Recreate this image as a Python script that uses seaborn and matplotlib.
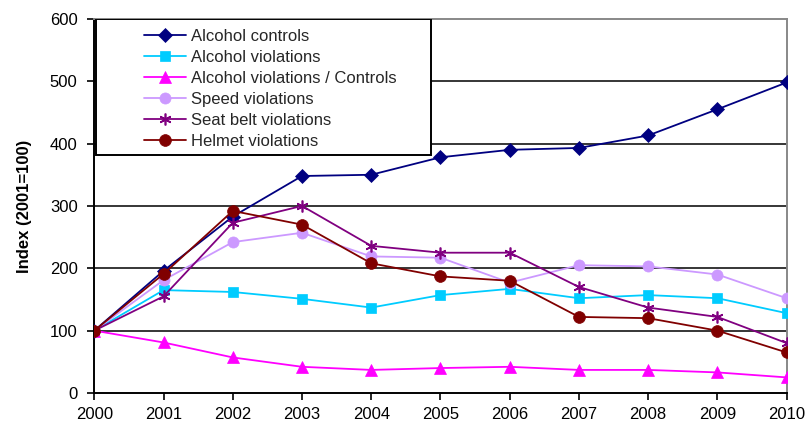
import matplotlib
matplotlib.use("Agg")
import matplotlib.pyplot as plt
from matplotlib.patches import Rectangle
import seaborn as sns
import pandas as pd

years = [2000, 2001, 2002, 2003, 2004, 2005, 2006, 2007, 2008, 2009, 2010]

alcohol_controls = [100, 196, 283, 348, 350, 378, 390, 393, 413, 455, 498]
alcohol_violations = [100, 165, 162, 151, 137, 157, 167, 152, 157, 152, 128]
violations_per_control = [100, 81, 57, 42, 37, 40, 42, 37, 37, 33, 25]
speed_violations = [100, 181, 242, 257, 219, 217, 177, 205, 203, 190, 152]
seat_belt_violations = [100, 155, 273, 300, 236, 225, 225, 170, 137, 122, 80]
helmet_violations = [100, 191, 292, 270, 208, 187, 180, 122, 120, 100, 65]

series_names = [
    "Alcohol controls",
    "Alcohol violations",
    "Alcohol violations / Controls",
    "Speed violations",
    "Seat belt violations",
    "Helmet violations",
]
series_values = [
    alcohol_controls,
    alcohol_violations,
    violations_per_control,
    speed_violations,
    seat_belt_violations,
    helmet_violations,
]
colors = ["#000080", "#00CCFF", "#FF00FF", "#CC99FF", "#800080", "#800000"]
markers = ["D", "s", "^", "o", (6, 2, 0), "o"]
marker_sizes = [7, 7.5, 8.5, 8, 8.5, 8.5]

y_ticks = [0, 100, 200, 300, 400, 500, 600]

sns.set_theme(style="white")
plt.rcParams["font.family"] = ["Liberation Sans", "DejaVu Sans"]

fig = plt.figure(figsize=(8.06, 4.32), dpi=100)
ax = fig.add_axes([0.117, 0.0903, 0.859, 0.866])

df = pd.DataFrame({"Year": years})
for name, vals, c, m, ms in zip(series_names, series_values, colors, markers, marker_sizes):
    df[name] = vals
    sns.lineplot(
        data=df, x="Year", y=name, ax=ax, color=c, marker=m, markersize=ms,
        markeredgecolor=c, markeredgewidth=1.2 if m == (6, 2, 0) else 0.5,
        linewidth=1.3, label=name, zorder=3,
    )

ax.set_xlim(2000, 2010)
ax.set_ylim(0, 600)
ax.set_xticks(years)
ax.set_xticklabels([str(y) for y in years])
ax.set_yticks(y_ticks)

for v in y_ticks[1:-1]:
    ax.axhline(v, color="black", linewidth=1.1, zorder=1)

for side in ["left", "bottom"]:
    ax.spines[side].set_color("black")
    ax.spines[side].set_linewidth(1.4)
for side in ["top", "right"]:
    ax.spines[side].set_color("#888888")
    ax.spines[side].set_linewidth(1.4)

ax.tick_params(axis="both", which="both", direction="out", length=5, width=1.2,
               color="black", labelsize=12, labelcolor="black")
ax.tick_params(axis="y", left=True, pad=7)
ax.tick_params(axis="x", bottom=True, pad=5)

ax.set_xlabel("")
ax.set_ylabel("Index (2001=100)", fontsize=12, fontweight="bold", labelpad=13, color="black")

# legend box with a white fill and black border in the upper-left corner
box = Rectangle((0.003, 0.636), 0.483, 0.364, transform=ax.transAxes,
                facecolor="white", edgecolor="black", linewidth=1.4, zorder=4)
ax.add_patch(box)
handles, labels = ax.get_legend_handles_labels()
leg = ax.legend(handles, labels, loc="upper left", bbox_to_anchor=(0.067, 0.982),
                frameon=False, fontsize=12, handlelength=2.5, handletextpad=0.3,
                labelspacing=0.36, borderaxespad=0.0, borderpad=0.2)
leg.set_zorder(5)

fig.savefig("out.png", dpi=100)
